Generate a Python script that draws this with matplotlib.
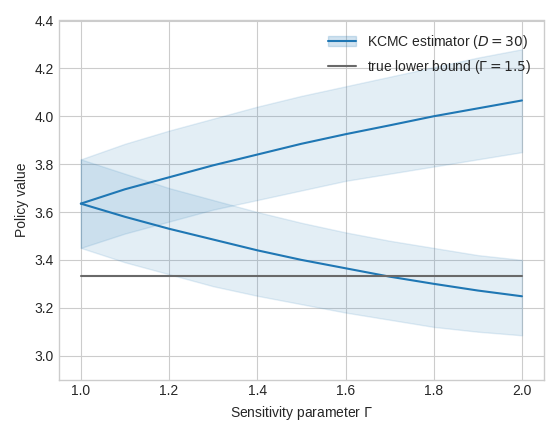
import matplotlib.pyplot as plt
import matplotlib.patches as mpatches

gamma = [1.0, 1.1, 1.2, 1.3, 1.4, 1.5, 1.6, 1.7, 1.8, 1.9, 2.0]
upper_mean = [3.635, 3.695, 3.745, 3.795, 3.84, 3.885, 3.925, 3.962, 4.0, 4.033, 4.066]
upper_hi = [3.82, 3.885, 3.94, 3.99, 4.04, 4.085, 4.125, 4.165, 4.205, 4.245, 4.28]
upper_lo = [3.45, 3.51, 3.56, 3.61, 3.65, 3.69, 3.73, 3.76, 3.79, 3.82, 3.85]
lower_mean = [3.635, 3.58, 3.53, 3.485, 3.44, 3.40, 3.365, 3.33, 3.30, 3.272, 3.248]
lower_hi = [3.82, 3.76, 3.70, 3.65, 3.60, 3.555, 3.515, 3.48, 3.45, 3.42, 3.40]
lower_lo = [3.45, 3.39, 3.34, 3.29, 3.25, 3.215, 3.18, 3.15, 3.12, 3.10, 3.085]
true_bound = 3.333

plt.style.use('seaborn-v0_8-whitegrid')
fig, ax = plt.subplots(figsize=(5.59, 4.37), dpi=100)
c = '#1f77b4'
ax.fill_between(gamma, upper_lo, upper_hi, color=c, alpha=0.12)
ax.fill_between(gamma, lower_lo, lower_hi, color=c, alpha=0.12)
l1, = ax.plot(gamma, upper_mean, color=c)
ax.plot(gamma, lower_mean, color=c)
l2 = ax.axhline(true_bound, xmin=0.045, xmax=0.955, color='dimgray')

ax.set_xlim(0.95, 2.05)
ax.set_ylim(2.9, 4.4)
ax.set_xlabel(r'Sensitivity parameter $\Gamma$')
ax.set_ylabel('Policy value')
for s in ax.spines.values():
    s.set_visible(True)
    s.set_color('#cccccc')
patch = mpatches.Patch(color=c, alpha=0.2)
ax.legend([(patch, l1), l2],
          [r'KCMC estimator ($D=30$)', r'true lower bound ($\Gamma=1.5$)'],
          loc='upper right')
plt.tight_layout()
plt.savefig('out.png', dpi=100)
